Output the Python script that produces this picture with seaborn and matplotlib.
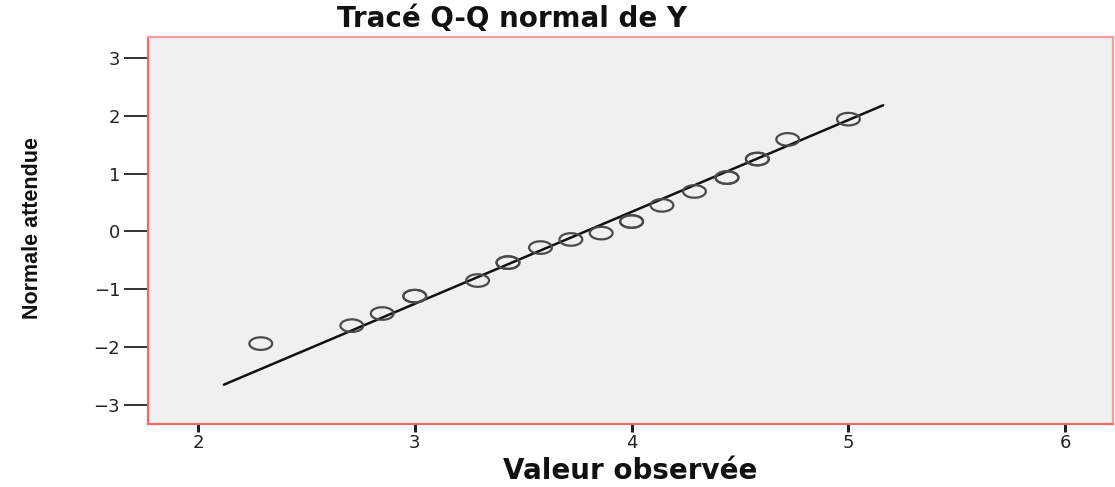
import numpy as np
import pandas as pd
import matplotlib
matplotlib.use("Agg")
import matplotlib.pyplot as plt
from matplotlib.path import Path
import seaborn as sns

# Data
observed = [2.29, 2.71, 2.85, 3.00, 3.00, 3.29, 3.43, 3.43, 3.58, 3.72, 3.86,
            4.00, 4.00, 4.14, 4.29, 4.44, 4.44, 4.58, 4.58, 4.72, 5.00]
expected = [-1.94, -1.63, -1.42, -1.12, -1.12, -0.85, -0.54, -0.54, -0.28, -0.14, -0.03,
            0.17, 0.17, 0.45, 0.69, 0.93, 0.93, 1.25, 1.25, 1.59, 1.94]
line_x = [2.12, 5.16]
line_y = [-2.65, 2.18]
x_ticks = [2, 3, 4, 5, 6]
y_ticks = [-3, -2, -1, 0, 1, 2, 3]

df = pd.DataFrame({"obs": observed, "exp": expected})
ldf = pd.DataFrame({"x": line_x, "y": line_y})

sns.set_style("white")
plt.rcParams['font.family'] = ['DejaVu Sans']

W, H = 1115, 487
fig = plt.figure(figsize=(W/100, H/100), dpi=100)
ax = fig.add_axes([148/W, 1 - 424/H, (1113-148)/W, (424-37)/H])
ax.set_facecolor("#f0f0f0")

# ellipse marker (image is horizontally stretched)
t = np.linspace(0, 2*np.pi, 60)
ell = Path(np.column_stack([1.0*np.cos(t), 0.55*np.sin(t)]), closed=True)

sns.lineplot(data=ldf, x="x", y="y", ax=ax, color="#111111", linewidth=1.8)
sns.scatterplot(data=df, x="obs", y="exp", ax=ax, marker=ell, s=270,
                facecolors="none", edgecolor="#4a4a4a", linewidth=1.6, zorder=3)

ax.set_xlim(1.77, 6.22)
ax.set_ylim(-3.33, 3.36)
ax.set_xticks(x_ticks)
ax.set_yticks(y_ticks)
ax.set_xticklabels([str(v) for v in x_ticks])
ax.set_yticklabels([str(v).replace('-', '\u2212') for v in y_ticks])
ax.tick_params(axis='both', direction='out', colors='#222222', labelsize=13,
               bottom=True, left=True)
ax.tick_params(axis='y', length=17, width=1.3, pad=3)
ax.tick_params(axis='x', length=6, width=2.2, pad=1)

for name, s in ax.spines.items():
    s.set_linewidth(1.6)
    s.set_color("#f06868" if name in ("left", "bottom") else "#f4a0a0")

ax.set_xlabel("")
ax.set_ylabel("")
fig.text(630/W, 1 - 471/H, "Valeur observée", fontsize=20, fontweight='bold',
         ha='center', va='center', color='#111111')
fig.text(33/W, 1 - 228/H, "Normale attendue", fontsize=15.5, fontweight='bold',
         ha='center', va='center', rotation=90, color='#111111',
         family=['Liberation Sans Narrow', 'Liberation Sans', 'DejaVu Sans'])
fig.text(512/W, 1 - 19/H, "Tracé Q-Q normal de Y", fontsize=20, fontweight='bold',
         ha='center', va='center', color='#111111')

fig.savefig("out.png", dpi=100)
